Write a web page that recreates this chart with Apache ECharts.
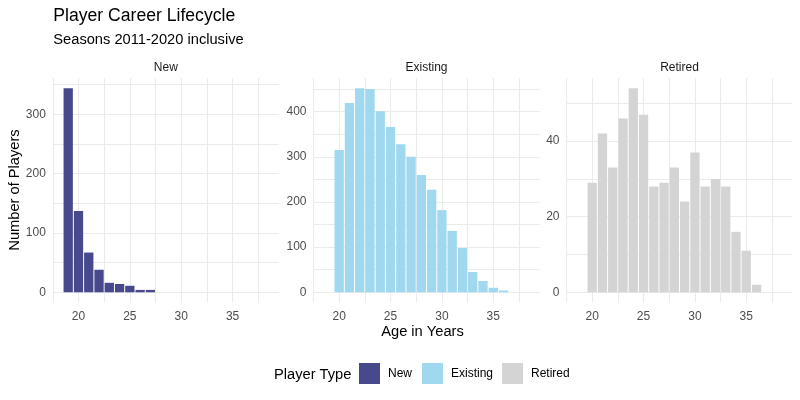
<!DOCTYPE html>
<html>
<head>
<meta charset="utf-8">
<script src="https://cdn.jsdelivr.net/npm/echarts@6/dist/echarts.min.js"></script>
<style>
html,body{margin:0;padding:0;background:#fff;}
#chart{width:800px;height:400px;}
</style>
</head>
<body>
<div id="chart"></div>
<script>
const ages = [19,20,21,22,23,24,25,26,27,28,29,30,31,32,33,34,35,36];
const newPlayers = [344,137,67,38,16,14,11,4,4,0,0,0,0,0,0,0,0,0];
const existingPlayers = [0,315,419,452,450,401,366,328,300,260,227,182,136,98,45,25,10,4];
const retiredPlayers = [0,29,42,33,46,54,47,28,29,33,24,37,28,30,28,16,11,2];
const panelNames = ['New','Existing','Retired'];
const panelColors = ['#48488C','#A0D8EF','#D4D4D4'];
const xTickLabels = [20,25,30,35];

const panels = [newPlayers, existingPlayers, retiredPlayers];
const FONT = '"Liberation Sans", Arial, sans-serif';
const GRID_COLOR = '#EBEBEB';
const gridLefts = [52.8, 313.5, 566.5];
const gridWidth = 226;
const gridTop = 78;
const gridHeight = 224.5;
const yMinorStep = [50, 50, 10];
const yLabelStep = [100, 100, 20];
const TICK_FS = 12;

const grids = [], xAxes = [], yAxes = [], series = [], graphics = [], legends = [];

panels.forEach((vals, i) => {
  const maxV = Math.max(...vals);
  const scale = gridHeight / (1.1 * maxV);
  const zeroY = gridTop + gridHeight - 0.05 * maxV * scale;
  const topTick = Math.floor(1.05 * maxV / yMinorStep[i]) * yMinorStep[i];
  const gA = 2 * i, gB = 2 * i + 1;
  // grid A: full panel, x labels and vertical grid lines
  grids.push({show: false, left: gridLefts[i], top: gridTop, width: gridWidth, height: gridHeight});
  // grid B: zero line to top break, bars, y labels and horizontal grid lines
  grids.push({show: false, left: gridLefts[i], top: zeroY - topTick * scale, width: gridWidth, height: topTick * scale});
  xAxes.push({
    type: 'value', gridIndex: gA, min: 17.5, max: 39.5, interval: 2.5,
    axisLine: {show: false, onZero: false}, axisTick: {show: false},
    splitLine: {show: true, showMinLine: true, showMaxLine: false, lineStyle: {color: GRID_COLOR, width: 1}},
    axisLabel: {
      color: '#4D4D4D', fontSize: TICK_FS, fontFamily: FONT, margin: 8,
      showMinLabel: false, showMaxLabel: false,
      formatter: v => xTickLabels.some(t => Math.abs(t - v) < 1e-6) ? String(Math.round(v)) : ''
    }
  });
  yAxes.push({type: 'value', gridIndex: gA, min: 0, max: 1, show: false,
    axisLine: {show: false}, splitLine: {show: false}, axisLabel: {show: false}, axisTick: {show: false}});
  xAxes.push({type: 'value', gridIndex: gB, min: 17.5, max: 39.5, show: false,
    axisLine: {show: false, onZero: false}, splitLine: {show: false}, axisLabel: {show: false}, axisTick: {show: false}});
  yAxes.push({
    type: 'value', gridIndex: gB, min: 0, max: topTick, interval: yMinorStep[i],
    axisLine: {show: false}, axisTick: {show: false},
    splitLine: {show: true, lineStyle: {color: GRID_COLOR, width: 1}},
    axisLabel: {
      color: '#4D4D4D', fontSize: TICK_FS, fontFamily: FONT, margin: 7,
      formatter: v => {
        const r = Math.round(v);
        return (Math.abs(v - r) < 1e-6 && r % yLabelStep[i] === 0) ? String(r) : '';
      }
    }
  });
  const data = [];
  ages.forEach((a, k) => { if (vals[k] > 0) data.push([a, vals[k]]); });
  series.push({
    type: 'bar', name: panelNames[i], xAxisIndex: gB, yAxisIndex: gB,
    data: data, barWidth: 9.3, clip: false,
    itemStyle: {color: panelColors[i]},
    emphasis: {disabled: true}, silent: true
  });
  graphics.push({
    type: 'text', x: gridLefts[i] + gridWidth / 2, y: 68,
    style: {text: panelNames[i], fill: '#1A1A1A', font: TICK_FS + 'px ' + FONT, textAlign: 'center', textVerticalAlign: 'middle'}
  });
});

const legendLefts = [359, 422, 502];
panelNames.forEach((n, i) => {
  legends.push({
    data: [n], left: legendLefts[i], top: 363, orient: 'horizontal', padding: 0,
    itemWidth: 21, itemHeight: 21, icon: 'rect', itemGap: 0, selectedMode: false,
    textStyle: {color: '#000', fontSize: TICK_FS, fontFamily: FONT, padding: [0, 0, 0, 3]}
  });
});

graphics.push(
  {type: 'text', x: 53.3, y: 16, style: {text: 'Player Career Lifecycle', fill: '#000', font: '17.6px ' + FONT, textAlign: 'left', textVerticalAlign: 'middle'}},
  {type: 'text', x: 53.3, y: 40, style: {text: 'Seasons 2011-2020 inclusive', fill: '#000', font: '14.67px ' + FONT, textAlign: 'left', textVerticalAlign: 'middle'}},
  {type: 'text', x: 422.5, y: 332, style: {text: 'Age in Years', fill: '#000', font: '14.67px ' + FONT, textAlign: 'center', textVerticalAlign: 'middle'}},
  {type: 'text', x: 15, y: 190, rotation: Math.PI / 2, style: {text: 'Number of Players', fill: '#000', font: '14.67px ' + FONT, textAlign: 'center', textVerticalAlign: 'middle'}},
  {type: 'text', x: 274, y: 375, style: {text: 'Player Type', fill: '#000', font: '14.67px ' + FONT, textAlign: 'left', textVerticalAlign: 'middle'}}
);

const chart = echarts.init(document.getElementById('chart'), null, {renderer: 'canvas'});
chart.setOption({
  animation: false,
  backgroundColor: '#fff',
  grid: grids, xAxis: xAxes, yAxis: yAxes, series: series,
  legend: legends,
  graphic: graphics
});
</script>
</body>
</html>
